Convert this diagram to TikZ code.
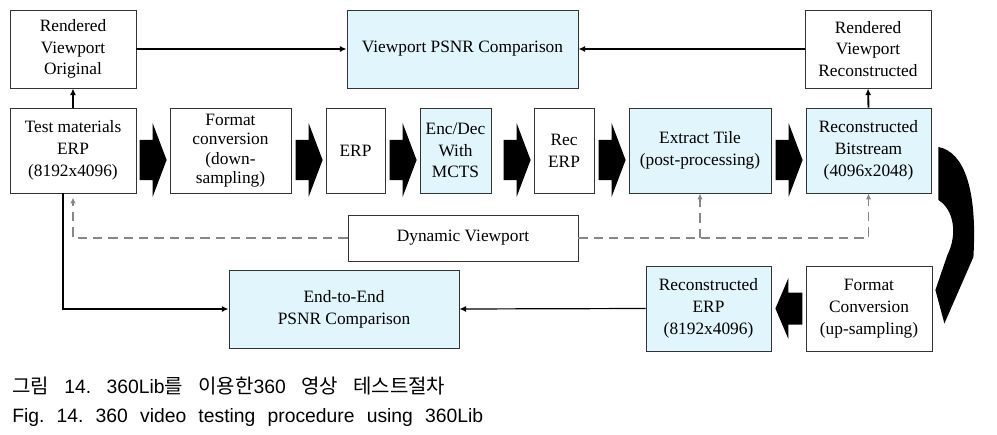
\documentclass[tikz,border=0pt]{standalone}
\usepackage{fontspec}
\setmainfont{Liberation Serif}
\newfontfamily\capfont{Liberation Sans}
\newfontfamily\krfont{Noto Sans CJK KR}
\usetikzlibrary{calc,arrows.meta}
\definecolor{boxblue}{RGB}{224,245,252}
\definecolor{dashgray}{RGB}{135,135,135}
\newcommand\rblock[1]{%
  \fill ($(#1.west)+(-3,9.5)$) -- ++(-14,-37) -- ++(0,17) -- ++(-13,0) -- ++(0,40) -- ++(13,0) -- ++(0,17) -- cycle;}
\newcommand\kr[1]{{\krfont\fontsize{15}{16}\selectfont #1}}
\begin{document}
\frenchspacing
\begin{tikzpicture}[x=0.75pt,y=-0.75pt]
\tikzset{
  box/.style={draw=black!80, line width=0.6pt, fill=white, align=center, inner sep=0pt,
    font=\fontsize{13}{16.3}\selectfont},
  bluebox/.style={box, fill=boxblue},
  conn/.style={line width=1.4pt, -{Latex[length=5pt,width=4.5pt]}},
  thinconn/.style={line width=0.9pt, -{Latex[length=5pt,width=4.5pt]}},
  dconn/.style={draw=dashgray, line width=1.1pt, dash pattern=on 7pt off 4.5pt,
    -{Latex[length=4.5pt,width=4pt]}},
  captxt/.style={anchor=base west, inner sep=0pt}
}
\fill[white] (0,0) rectangle (997,435);
\useasboundingbox (0,0) rectangle (997,435);

% top row
\node[box, minimum width=94.5pt, minimum height=58.5pt] (rvo) at (73,49) {Rendered\\Viewport\\Original};
\node[bluebox, minimum width=173.25pt, minimum height=58.5pt] (psnr) at (462.5,49) {Viewport PSNR Comparison};
\node[box, minimum width=94.5pt, minimum height=58.5pt] (rvr) at (868,49) {Rendered\\Viewport\\Reconstructed};

% middle row
\node[box, minimum width=94.5pt, minimum height=63.75pt] (tm) at (73,150.5) {Test materials\\ERP\\(8192x4096)};
\node[box, minimum width=90.75pt, minimum height=63.75pt, font=\fontsize{13}{14.6}\selectfont] (fc) at (230.5,150.5) {Format\\conversion\\(down-\\sampling)};
\node[box, minimum width=44.25pt, minimum height=63.75pt] (erp) at (355.5,150.5) {ERP};
\node[bluebox, minimum width=53.25pt, minimum height=63.75pt] (enc) at (455.5,150.5) {Enc/Dec\\With\\MCTS};
\node[box, minimum width=45pt, minimum height=63.75pt] (rec) at (564,150.5) {Rec\\ERP};
\node[bluebox, minimum width=106.5pt, minimum height=63.75pt] (ext) at (700,150.5) {Extract Tile\\(post-processing)};
\node[bluebox, minimum width=93.75pt, minimum height=63.75pt] (rb) at (868.5,150.5) {Reconstructed\\Bitstream\\(4096x2048)};

% dynamic viewport
\node[box, minimum width=172.5pt, minimum height=34.5pt] (dv) at (463,238) {Dynamic Viewport};

% bottom row
\node[bluebox, minimum width=172.5pt, minimum height=58.5pt] (e2e) at (344,309) {End-to-End\\PSNR Comparison};
\node[bluebox, minimum width=93.75pt, minimum height=63.75pt] (rerp) at (708.5,308.5) {Reconstructed\\ERP\\(8192x4096)};
\node[box, minimum width=94.5pt, minimum height=63.75pt] (fcu) at (869,308.5) {Format\\Conversion\\(up-sampling)};

% block arrows
\rblock{fc}
\rblock{erp}
\rblock{enc}
\rblock{rec}
\rblock{ext}
\rblock{rb}
\fill ($(rerp.east)+(4,0)$) -- ++(13,-30.5) -- ++(0,14.5) -- ++(14,0) -- ++(0,32) -- ++(-14,0) -- ++(0,14.5) -- cycle;

% curved arrow from rb to fcu
\begin{scope}[shift={(rb.east)}]
\fill (7,-3.5) .. controls (33,1.5) and (46,39.5) .. (42,106.5) -- (13,173) -- (4,139.5) -- (16,104.5)
  .. controls (26,84.5) and (23,59.5) .. (7,49.5) -- cycle;
\end{scope}

% thin connectors
\draw[conn] (tm.north) -- (rvo.south);
\draw[conn] (rb.north) -- (rvr.south);
\draw[conn] (rvo.east) -- (psnr.west);
\draw[conn] (rvr.west) -- (psnr.east);
\draw[conn] ([xshift=-7.5pt]tm.south) |- (e2e.west);
\draw[thinconn] (rerp.west) -- (e2e.east);

% dashed connectors
\draw[dconn, shorten >=3pt] (dv.west) -| (tm.south);
\draw[dconn] (dv.east) -| (rb.south);
\draw[dconn] (ext.south |- dv.east) -- (ext.south);

% caption
\node[captxt, font=\capfont\fontsize{14.5}{16}\selectfont] (cap1) at (12,393)
  {\makebox[324.75pt][s]{\kr{그림} 14. 360Lib\kr{를} \kr{이용한}360 \kr{영상} \kr{테스트절차}}};
\node[captxt, font=\capfont\fontsize{14.5}{16}\selectfont] (cap2) at (12,422)
  {\makebox[353.25pt][s]{Fig. 14. 360 video testing procedure using 360Lib}};
\end{tikzpicture}
\end{document}
